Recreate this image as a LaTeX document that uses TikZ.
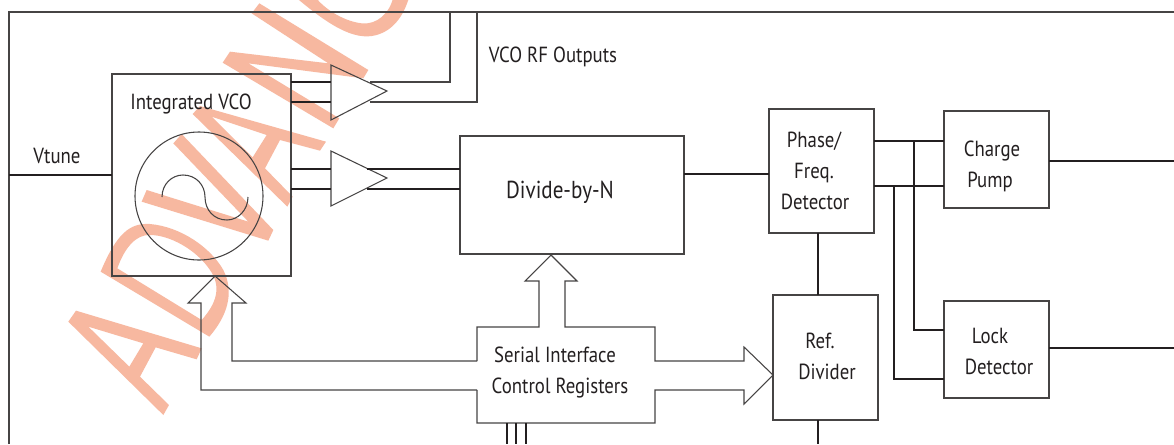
\documentclass[tikz,border=0pt]{standalone}
\usepackage{fontspec}
\setmainfont[FakeStretch=0.86]{PT Sans}
\definecolor{wm}{HTML}{F7B8A0}
\definecolor{ink}{HTML}{464444}
\definecolor{dark}{HTML}{231F20}
\newcommand\pxbox[5]{\node[blockbox,minimum width={(#4-#2)*0.75pt},minimum height={(#5-#3)*0.75pt}] (#1) at ({(#2+#4)/2},{(#3+#5)/2}) {};}
\tikzset{
  blockbox/.style={draw=ink,line width=0.8pt,inner sep=0pt,outer sep=0pt,fill=none},
  thinline/.style={draw=ink,line width=0.8pt,line join=miter},
  thickline/.style={draw=dark,line width=1.4pt},
  heavyline/.style={draw=dark,line width=2pt},
  wmark/.style={fill=wm,draw=none,even odd rule},
  lbl/.style={inner sep=0pt,anchor=base,text=dark,font=\fontsize{16.4}{18}\selectfont}
}
\begin{document}
\begin{tikzpicture}[x=0.75pt,y=-0.75pt]
\useasboundingbox (0,0) rectangle (1174,444);
\fill[white] (0,0) rectangle (1174,444);
\begin{scope}
\clip (0,0) rectangle (1174,444);
\begin{scope}[scale=1/3]
% A
\fill[wmark] (228,932) -- (605,1045) -- (590,1078) -- (467,1042) -- (420,1130) -- (507,1215) -- (490,1245) -- (205,965) -- cycle
  (265,980) -- (430,1030) -- (388,1100) -- cycle;
% D
\fill[wmark] (302,815) -- (628,1010) .. controls (680,950) and (705,880) .. (670,810) .. controls (630,740) and (540,680) .. (450,672) .. controls (390,668) and (350,700) .. cycle
  (352,805) -- (605,960) .. controls (650,910) and (665,860) .. (630,810) .. controls (590,750) and (510,705) .. (450,705) .. controls (410,703) and (375,740) .. cycle;
% V
\fill[wmark] (545,402) -- (820,690) -- (805,722) -- (425,605) -- (440,570) -- (745,665) -- (520,430) -- cycle;
% A
\fill[wmark] (600,318) -- (978,425) -- (960,452) -- (840,420) -- (795,505) -- (878,590) -- (862,620) -- (578,342) -- cycle
  (635,350) -- (800,405) -- (758,472) -- cycle;
% N
\fill[wmark] (778,10) -- (1105,210) -- (1090,235) -- (745,190) -- (1018,355) -- (1000,385) -- (668,188) -- (690,155) -- (985,190) -- (755,40) -- cycle;
% C
\fill[wmark] (885,-10) .. controls (980,70) and (1060,125) .. (1130,105) .. controls (1180,90) and (1210,50) .. (1228,-10) -- (1180,-10) .. controls (1170,40) and (1130,75) .. (1085,70) .. controls (1040,65) and (980,35) .. (945,-10) -- cycle;
\end{scope}
\end{scope}

% frame
\coordinate (frameTL) at (9,12);
\coordinate (frameTR) at (1174,12);
\coordinate (frameBL) at (9,444);
\draw[thinline] (frameBL) -- (frameTL) -- (frameTR);

% blocks
\pxbox{vco}{112}{74}{291}{276}
\pxbox{divn}{460}{136}{684}{254}
\pxbox{pfd}{769}{109}{874}{233}
\pxbox{pump}{944}{111}{1049}{208}
\pxbox{lock}{944}{301}{1049}{398}
\pxbox{ref}{773}{295}{878}{420}
\node[draw=ink,line width=0.8pt,circle,inner sep=0pt,outer sep=0pt,minimum size=96pt] (osc) at (199,196) {};
\coordinate (sineA) at (162,197);
\coordinate (sineB) at (205,197);
\coordinate (sineC) at (248,197);
\draw[thinline] (sineA) .. controls (162,184) and (172,175) .. (183,175) .. controls (196,175) and (205,185) .. (sineB) .. controls (205,210) and (214,220) .. (227,220) .. controls (238,220) and (248,210) .. (sineC);

% amplifiers
\coordinate (ampAa) at (331,65); \coordinate (ampAb) at (387,91); \coordinate (ampAc) at (331,120);
\coordinate (ampBa) at (331,151); \coordinate (ampBb) at (387,178); \coordinate (ampBc) at (331,206);
\draw[thinline] (ampAa) -- (ampAb) -- (ampAc) -- cycle;
\draw[thinline] (ampBa) -- (ampBb) -- (ampBc) -- cycle;

% connectors
\coordinate (rfA) at (370,82); \coordinate (rfB) at (370,102);
\coordinate (outA) at (450,12); \coordinate (outB) at (477,12);
\coordinate (tapA) at (367,169); \coordinate (tapB) at (367,189);
\draw[thickline] (vco.east |- rfA) -- (ampAa |- rfA);
\draw[thickline] (vco.east |- rfB) -- (ampAa |- rfB);
\draw[thinline] (rfA) -| (outA);
\draw[thinline] (rfB) -| (outB);
\draw[thickline] (vco.east |- tapA) -- (ampBa |- tapA);
\draw[thickline] (vco.east |- tapB) -- (ampBa |- tapB);
\draw[thickline] (tapA) -- (divn.west |- tapA);
\draw[thickline] (tapB) -- (divn.west |- tapB);
\coordinate (vt) at (9,175);
\draw[thickline] (vt) -- (vco.west |- vt);
\coordinate (divy) at (700,174);
\draw[thickline] (divn.east |- divy) -- (pfd.west |- divy);
\coordinate (pfdA) at (874,141); \coordinate (pfdB) at (874,186);
\draw[thickline] (pfdA) -- (pump.west |- pfdA);
\draw[thickline] (pfdB) -- (pump.west |- pfdB);
\coordinate (busA) at (914,141); \coordinate (busB) at (894,186);
\coordinate (lockA) at (944,330); \coordinate (lockB) at (944,379);
\draw[thickline,line join=miter] (busA) |- (lockA);
\draw[thickline,line join=miter] (busB) |- (lockB);
\coordinate (mid) at (818,264);
\draw[heavyline] (mid |- pfd.south) -- (mid |- ref.north);
\coordinate (refOut) at (818,444);
\draw[heavyline] (refOut |- ref.south) -- (refOut);
\coordinate (pumpOut) at (1174,161);
\draw[heavyline] (pump.east |- pumpOut) -- (pumpOut);
\coordinate (lockOut) at (1174,348);
\draw[heavyline] (lock.east |- lockOut) -- (lockOut);

% serial block with hollow bus arrows
\coordinate (busTipV) at (215,276);
\coordinate (busTipN) at (551,255);
\coordinate (busTipR) at (773,375);
\draw[thinline] (477,361) -- (477,327) -- (539,327) -- (539,281) -- (525,281) -- (busTipN) -- (577,281) -- (565,281) -- (565,327) -- (655,327) -- (655,361) -- (744,361) -- (744,347) -- (busTipR) -- (744,404) -- (744,390) -- (655,390) -- (655,423) -- (477,423) -- (477,390);
\draw[thinline] (477,361) -- (232,361) -- (232,303) -- (246,303) -- (busTipV) -- (188,303) -- (201,303) -- (201,390) -- (477,390);
\coordinate (sdA) at (507,423); \coordinate (sdB) at (516,423); \coordinate (sdC) at (526,423);
\coordinate (sdEnd) at (516,444);
\draw[thickline] (sdA) -- (sdA |- sdEnd);
\draw[thickline] (sdB) -- (sdB |- sdEnd);
\draw[thickline] (sdC) -- (sdC |- sdEnd);

% labels
\node[lbl] (tVtune) at (57,163) {Vtune};
\node[lbl] (tVco) at (191,109) {Integrated VCO};
\node[lbl] (tOut) at (553,62) {VCO RF Outputs};
\node[lbl,font=\fontsize{18.4}{20}\selectfont] (tDiv) at (560,198) {Divide-by-N};
\node[lbl] (tPh) at (814,147) {Phase/};
\node[lbl] (tFr) at (814,178) {Freq.};
\node[lbl] (tDe) at (815,209) {Detector};
\node[lbl] (tCh) at (992,156) {Charge};
\node[lbl] (tPu) at (990,187) {Pump};
\node[lbl] (tLo) at (990,343) {Lock};
\node[lbl] (tLd) at (999,374) {Detector};
\node[lbl] (tRe) at (820,348) {Ref.};
\node[lbl] (tDr) at (827,379) {Divider};
\node[lbl] (tSe) at (555,362) {Serial Interface};
\node[lbl] (tCo) at (560,393) {Control Registers};
\end{tikzpicture}
\end{document}
